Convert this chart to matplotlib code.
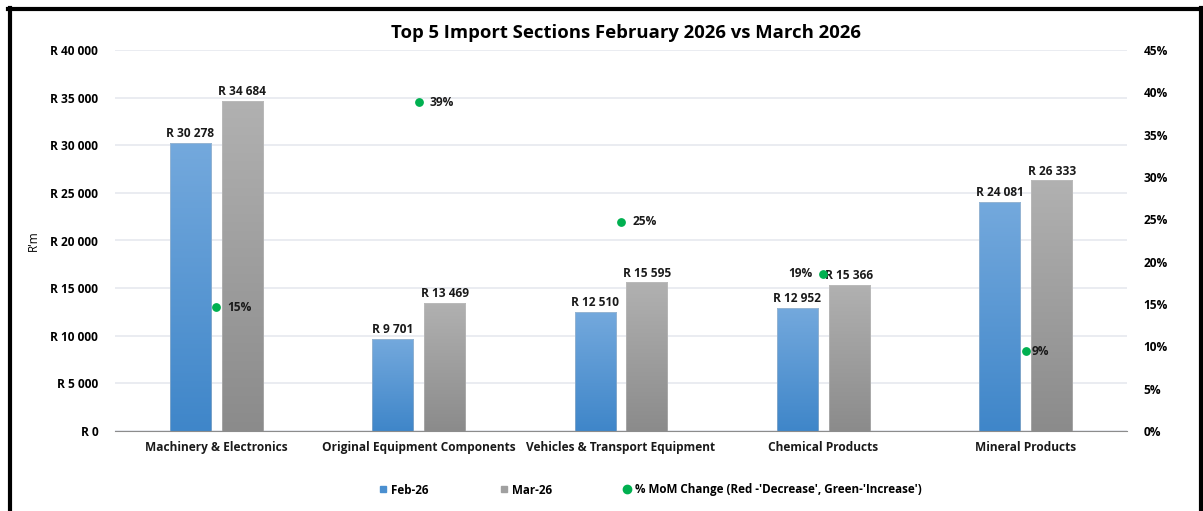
import numpy as np
import matplotlib
matplotlib.use("Agg")
import matplotlib.pyplot as plt
from matplotlib.patches import Rectangle
from matplotlib.lines import Line2D
from matplotlib.ticker import FuncFormatter, MultipleLocator

categories = ["Machinery & Electronics", "Original Equipment Components",
              "Vehicles & Transport Equipment", "Chemical Products", "Mineral Products"]
feb = [30278, 9701, 12510, 12952, 24081]
mar = [34684, 13469, 15595, 15366, 26333]
mom = [14.6, 38.8, 24.7, 18.6, 9.4]  # % change

plt.rcParams['font.family'] = ['Open Sans', 'DejaVu Sans']

fig = plt.figure(figsize=(12.03, 5.11), dpi=100)
ax = fig.add_axes([115 / 1203, 80 / 511, 1012 / 1203, 381 / 511])
ax2 = ax.twinx()

x = np.arange(len(categories))
w = 0.203
off = 0.128
fs = 8.6


def rand(v):
    return "R " + f"{int(v):,}".replace(",", " ")


def grad_bar(ax, xc, h, top_col, bot_col):
    r = ax.bar(xc, h, w, color="none", edgecolor="none", zorder=2)[0]
    g = np.linspace(0, 1, 256).reshape(-1, 1)
    c0 = np.array(matplotlib.colors.to_rgb(bot_col))
    c1 = np.array(matplotlib.colors.to_rgb(top_col))
    img = c0 + (c1 - c0) * g[..., None]
    im = ax.imshow(img, extent=[xc - w / 2, xc + w / 2, 0, h], origin="lower",
                   aspect="auto", zorder=2)
    im.set_clip_path(r)
    ax.add_patch(Rectangle((xc - w / 2, 0), w, h, fill=False, ec="#c8c8c8",
                           lw=0.6, alpha=0.5, zorder=3))
    return r


for i in range(len(categories)):
    grad_bar(ax, x[i] - off, feb[i], "#74a9dd", "#3f86c9")
    grad_bar(ax, x[i] + off, mar[i], "#b1b1b1", "#8b8b8b")
    ax.text(x[i] - off, feb[i] + 250, rand(feb[i]), ha="center", va="bottom",
            fontsize=fs, fontweight="bold", color="#1a1a1a", zorder=5)
    ax.text(x[i] + off, mar[i] + 250, rand(mar[i]), ha="center", va="bottom",
            fontsize=fs, fontweight="bold", color="#1a1a1a", zorder=5)

ax.set_xlim(-0.5, len(categories) - 0.5)
ax.set_ylim(0, 40000)
ax.yaxis.set_major_locator(MultipleLocator(5000))
ax.yaxis.set_major_formatter(FuncFormatter(lambda v, p: rand(v)))
ax.grid(axis="y", color="#e6e9ef", lw=1.2, zorder=0)
ax.set_axisbelow(True)
ax.set_xticks(x)
ax.set_xticklabels(categories, fontsize=fs, fontweight="bold", color="#1a1a1a")
ax.tick_params(axis="x", length=0, pad=7)
ax.tick_params(axis="y", length=0, labelsize=fs, pad=12)
for lab in ax.get_yticklabels():
    lab.set_fontweight("bold")
for s in ["top", "right", "left"]:
    ax.spines[s].set_visible(False)
ax.spines["bottom"].set_color("#8c8c8c")
ax.set_ylabel("R'm", fontsize=8.5)
ax.yaxis.set_label_coords(-0.074, 0.5)

ax2.set_ylim(0, 45)
ax2.yaxis.set_major_locator(MultipleLocator(5))
ax2.yaxis.set_major_formatter(FuncFormatter(lambda v, p: f"{int(v)}%"))
ax2.tick_params(axis="y", length=0, labelsize=fs, pad=12)
for lab in ax2.get_yticklabels():
    lab.set_fontweight("bold")
for s in ["top", "right", "left", "bottom"]:
    ax2.spines[s].set_visible(False)
ax2.scatter(x, mom, s=28, color="#00b050", zorder=6)
for i, v in enumerate(mom):
    if i == 3:
        ax2.annotate(f"{round(v)}%", (x[i], v), xytext=(-8, 0), textcoords="offset points",
                     ha="right", va="center", fontsize=fs, fontweight="bold", color="#1a1a1a")
    elif i == 4:
        ax2.annotate(f"{round(v)}%", (x[i], v), xytext=(4, 0), textcoords="offset points",
                     ha="left", va="center", fontsize=fs, fontweight="bold", color="#1a1a1a")
    else:
        ax2.annotate(f"{round(v)}%", (x[i], v), xytext=(8, 0), textcoords="offset points",
                     ha="left", va="center", fontsize=fs, fontweight="bold", color="#1a1a1a")

fig.text(626 / 1203, 1 - 33 / 511, "Top 5 Import Sections February 2026 vs March 2026",
         ha="center", va="center", fontsize=13.3, fontweight="bold", color="#000000")

handles = [
    Line2D([], [], marker="s", ls="none", color="#4a8fd0", markersize=5),
    Line2D([], [], marker="s", ls="none", color="#a0a0a0", markersize=5),
    Line2D([], [], marker="o", ls="none", color="#00b050", markersize=6),
]
fig.legend(handles, ["Feb-26", "Mar-26", "% MoM Change (Red -'Decrease', Green-'Increase')"],
           loc="center", bbox_to_anchor=(650 / 1203, 1 - 490 / 511), ncol=3, frameon=False,
           prop={"size": 8.4, "weight": "bold"}, handlelength=0.8, handletextpad=0.3,
           columnspacing=6.0)

# black frame around chart
fig.add_artist(Line2D([9.5 / 1203, 9.5 / 1203], [0, 1 - 8 / 511], color="black", lw=3,
                      transform=fig.transFigure))
fig.add_artist(Line2D([1200.5 / 1203, 1200.5 / 1203], [0, 1 - 8 / 511], color="black", lw=3,
                      transform=fig.transFigure))
fig.add_artist(Line2D([8 / 1203, 1202 / 1203], [1 - 9 / 511, 1 - 9 / 511], color="black", lw=3,
                      transform=fig.transFigure))

fig.savefig("out.png", dpi=100)
